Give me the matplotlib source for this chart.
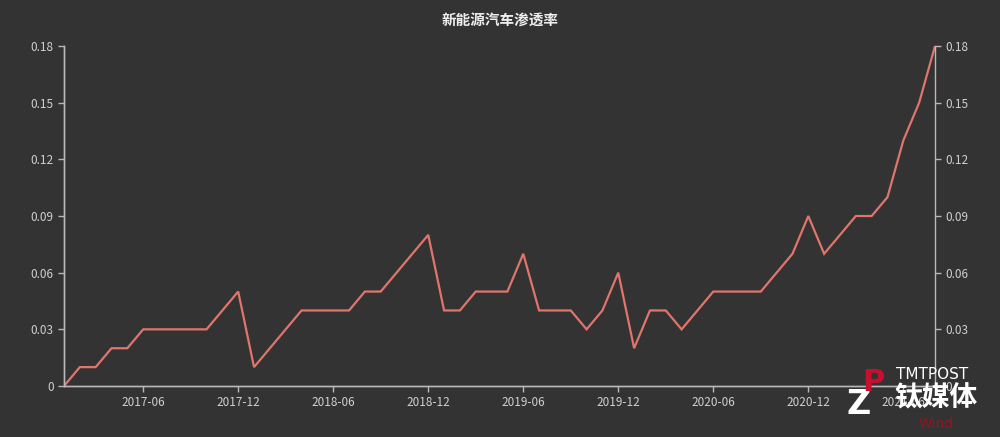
import matplotlib
matplotlib.use("Agg")
import matplotlib.pyplot as plt
import pandas as pd

plt.rcParams['font.family'] = ['Noto Sans CJK SC', 'DejaVu Sans']

title = "新能源汽车渗透率"
start_month = "2017-01"
values_2017 = [0.00, 0.01, 0.01, 0.02, 0.02, 0.03, 0.03, 0.03, 0.03, 0.03, 0.04, 0.05]
values_2018 = [0.01, 0.02, 0.03, 0.04, 0.04, 0.04, 0.04, 0.05, 0.05, 0.06, 0.07, 0.08]
values_2019 = [0.04, 0.04, 0.05, 0.05, 0.05, 0.07, 0.04, 0.04, 0.04, 0.03, 0.04, 0.06]
values_2020 = [0.02, 0.04, 0.04, 0.03, 0.04, 0.05, 0.05, 0.05, 0.05, 0.06, 0.07, 0.09]
values_2021 = [0.07, 0.08, 0.09, 0.09, 0.10, 0.13, 0.15, 0.18]
tick_labels = ["2017-06", "2017-12", "2018-06", "2018-12", "2019-06",
               "2019-12", "2020-06", "2020-12", "2021-06"]
y_ticks = [0, 0.03, 0.06, 0.09, 0.12, 0.15, 0.18]
y_tick_labels = ["0", "0.03", "0.06", "0.09", "0.12", "0.15", "0.18"]

values = values_2017 + values_2018 + values_2019 + values_2020 + values_2021
months = pd.date_range(start_month, periods=len(values), freq="MS").strftime("%Y-%m").tolist()
xs = list(range(len(values)))
tick_pos = [months.index(t) for t in tick_labels]

bg = "#333333"
axis_col = "#b8b8b8"
text_col = "#d0d0d0"
line_col = "#df756c"

fig = plt.figure(figsize=(10, 4.37), dpi=100, facecolor=bg)
ax = fig.add_axes([0.064, 0.1167, 0.871, 0.778], facecolor=bg)
ax.plot(xs, values, color=line_col, lw=1.6, solid_joinstyle="miter")
ax.set_xlim(0, len(values) - 1)
ax.set_ylim(0, 0.18)
ax.set_xticks(tick_pos)
ax.set_xticklabels(tick_labels)
ax.set_yticks(y_ticks)
ax.set_yticklabels(y_tick_labels)

ax2 = ax.twinx()
ax2.set_ylim(0, 0.18)
ax2.set_yticks(y_ticks)
ax2.set_yticklabels(y_tick_labels)

for a in (ax, ax2):
    for s in a.spines.values():
        s.set_color(axis_col)
        s.set_linewidth(1.0)
    a.spines['top'].set_visible(False)
    a.tick_params(colors=axis_col, labelcolor=text_col, labelsize=8.5, length=4, width=1)
ax.spines['right'].set_visible(False)

fig.text(0.5, 0.955, title, color="#eeeeee", fontsize=10.5, fontweight="bold",
         ha="center", va="center")

# watermark
fig.text(0.896, 0.142, "TMTPOST", color="white", fontsize=11, ha="left", va="center",
         family=["DejaVu Sans"])
fig.text(0.894, 0.088, "钛媒体", color="white", fontsize=20, fontweight="bold",
         ha="left", va="center")
fig.text(0.936, 0.03, "Wind", color="#a01020", fontsize=10, ha="center", va="center",
         family=["DejaVu Sans"], alpha=0.9)
fig.text(0.846, 0.075, "Z", color="white", fontsize=24, fontweight="bold",
         ha="left", va="center", family=["DejaVu Sans"])
fig.text(0.862, 0.125, "P", color="#c8102e", fontsize=22, fontweight="bold",
         ha="left", va="center", family=["DejaVu Sans"])

fig.savefig("out.png", dpi=100, facecolor=bg)
